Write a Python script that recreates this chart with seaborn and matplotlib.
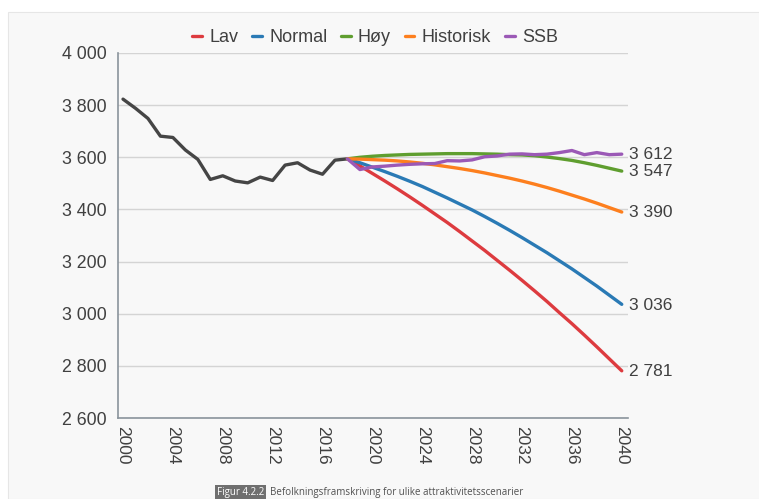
import pandas as pd
import numpy as np
import matplotlib.pyplot as plt
import seaborn as sns
from matplotlib.ticker import FuncFormatter
from matplotlib.patches import Rectangle

# Historical population 2000-2018
hist_years = list(range(2000, 2019))
hist_values = [3823, 3788, 3749, 3681, 3676, 3628, 3592, 3515, 3529, 3509,
               3502, 3524, 3511, 3570, 3579, 3551, 3535, 3589, 3594]

# Projection scenarios 2018-2040
proj_years = list(range(2018, 2041))
lav = [3594, 3567, 3538, 3509, 3479, 3448, 3416, 3383, 3350, 3315, 3279, 3243,
       3205, 3167, 3128, 3088, 3047, 3004, 2962, 2918, 2873, 2827, 2781]
normal = [3594, 3579, 3562, 3545, 3527, 3508, 3488, 3466, 3444, 3421, 3398, 3373,
          3347, 3320, 3292, 3263, 3234, 3203, 3172, 3139, 3106, 3071, 3036]
hoy = [3594, 3600, 3604, 3607, 3609, 3611, 3612, 3613, 3614, 3614, 3614, 3613,
       3612, 3610, 3609, 3606, 3601, 3595, 3588, 3579, 3569, 3558, 3547]
historisk = [3594, 3593, 3591, 3589, 3586, 3582, 3577, 3571, 3564, 3557, 3549, 3540,
             3530, 3520, 3509, 3497, 3484, 3470, 3455, 3440, 3424, 3407, 3390]
ssb = [3594, 3553, 3563, 3566, 3570, 3573, 3575, 3576, 3587, 3586, 3590, 3602,
       3605, 3612, 3613, 3610, 3612, 3618, 3626, 3610, 3618, 3610, 3612]

scenarios = ['Lav', 'Normal', 'Høy', 'Historisk', 'SSB']
colors = ['#dd3b3f', '#2a7ab5', '#5f9e2f', '#fd7f1e', '#9b59b6']
end_labels = ['2 781', '3 036', '3 547', '3 390', '3 612']

df = pd.DataFrame({
    'year': proj_years * 5,
    'value': lav + normal + hoy + historisk + ssb,
    'scenario': np.repeat(scenarios, len(proj_years)),
})
df_hist = pd.DataFrame({'year': hist_years, 'value': hist_values})

sns.set_style('white')
plt.rcParams['font.family'] = ['Liberation Sans', 'DejaVu Sans']

bg = '#f8f8f8'
txt = '#404040'
fig = plt.figure(figsize=(7.59, 4.99), dpi=100, facecolor='white')
fig.patches.append(Rectangle((8 / 759, 0), 1, 1 - 12 / 499, transform=fig.transFigure,
                             facecolor=bg, edgecolor='#e6e6e6', lw=0.8, zorder=-5))
ax = fig.add_axes([0.1555, 0.1623, 0.8274 - 0.1555, 0.8938 - 0.1623])
ax.set_facecolor(bg)

sns.lineplot(data=df_hist, x='year', y='value', color='#454545', lw=2.4, ax=ax)
sns.lineplot(data=df, x='year', y='value', hue='scenario', hue_order=scenarios,
             palette=colors, lw=2.4, ax=ax)

for s, c, lab in zip(scenarios, colors, end_labels):
    v = df[(df.scenario == s) & (df.year == 2040)].value.iloc[0]
    ax.annotate(lab, (2040, v), xytext=(5, -0.5), textcoords='offset points',
                va='center', ha='left', fontsize=12.5, color=txt, annotation_clip=False)

ax.set_xlim(1999.6, 2040.5)
ax.set_ylim(2600, 4000)
ax.set_xticks(range(2000, 2041, 4))
ax.set_yticks(range(2600, 4001, 200))
ax.yaxis.set_major_formatter(FuncFormatter(lambda v, p: f'{int(v):,}'.replace(',', ' ')))
ax.tick_params(axis='x', labelrotation=-90, labelsize=12.5, labelcolor=txt, length=0, pad=6)
ax.tick_params(axis='y', labelsize=12.8, labelcolor=txt, length=4, color='#8a949c', pad=4)
ax.grid(axis='y', color='#d4d4d4', lw=1)
ax.set_axisbelow(True)
for side in ['top', 'right']:
    ax.spines[side].set_visible(False)
for side in ['left', 'bottom']:
    ax.spines[side].set_color('#8a949c')
    ax.spines[side].set_linewidth(1.2)
ax.set_xlabel('')
ax.set_ylabel('')

handles, labels = ax.get_legend_handles_labels()
ax.legend_.remove()
fig.legend(handles, labels, ncol=5, loc='center', bbox_to_anchor=(0.494, 0.925),
           frameon=False, fontsize=13, handlelength=0.55, handletextpad=0.4,
           columnspacing=0.75, labelcolor=txt)

fig.text(0.348, 0.002, 'Figur 4.2.2', fontsize=7, color='white', family='Open Sans',
         ha='right', va='bottom',
         bbox=dict(facecolor='#6f6f6f', edgecolor='none', pad=1.2))
fig.text(0.356, 0.002, 'Befolkningsframskriving for ulike attraktivitetsscenarier',
         fontsize=7, color='#505050', family='Open Sans', ha='left', va='bottom')

fig.savefig('out.png', dpi=100, facecolor=fig.get_facecolor())
